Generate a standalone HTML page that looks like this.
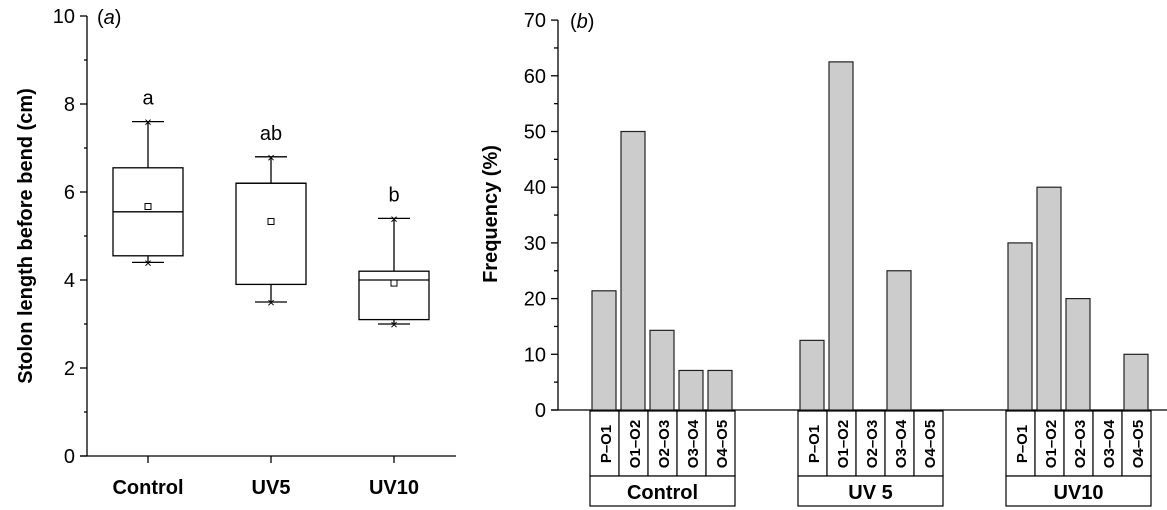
<!DOCTYPE html>
<html><head><meta charset="utf-8"><style>
body{margin:0;background:#fff}
svg{display:block;font-family:"Liberation Sans",Arial,sans-serif}
</style></head><body>
<svg width="1167" height="510" viewBox="0 0 1167 510" xmlns="http://www.w3.org/2000/svg">
<g id="a"></g>
<g id="b"></g>
</svg>
<script>
const boxCats=["Control","UV5","UV10"];
const whiskHi=[7.6,6.8,5.4];
const q3=[6.55,6.2,4.2];
const med=[5.55,6.2,4.0];
const means=[5.67,5.33,3.93];
const q1=[4.55,3.9,3.1];
const whiskLo=[4.4,3.5,3.0];
const sigLetters=["a","ab","b"];
const yTicksA=[0,2,4,6,8,10];

const groups=["Control","UV 5","UV10"];
const intervals=["P\u2013O1","O1\u2013O2","O2\u2013O3","O3\u2013O4","O4\u2013O5"];
const freqControl=[21.4,50,14.3,7.1,7.1];
const freqUV5=[12.5,62.5,0,25,0];
const freqUV10=[30,40,20,0,10];
const yTicksB=[0,10,20,30,40,50,60,70];

const NS="http://www.w3.org/2000/svg";
function mk(parent,tag,attrs,text){const e=document.createElementNS(NS,tag);for(const k in attrs)e.setAttribute(k,attrs[k]);if(text!==undefined)e.textContent=text;parent.appendChild(e);return e;}

// Panel A
const A=document.getElementById('a');
const ya=v=>456-v*44;
const xa=i=>148+i*123;
let e;
e=mk(A,'line',{x1:87,y1:16,x2:87,y2:456,stroke:'#000','stroke-width':1.3});


e=mk(A,'line',{x1:80,y1:456,x2:456,y2:456,stroke:'#000','stroke-width':1.3});


for(let v=0;v<=10;v++){
  mk(A,'line',{x1:v%2?84:80,y1:ya(v),x2:87,y2:ya(v),stroke:'#000','stroke-width':1.3});
}
yTicksA.forEach(v=>{
  e=mk(A,'text',{x:75,y:ya(v)+7,'text-anchor':'end','font-size':20},String(v));
  
  
});
e=mk(A,'text',{x:0,y:0,transform:'translate(32,236) rotate(-90)','text-anchor':'middle','font-size':20,'font-weight':'bold'},'Stolon length before bend (cm)');


e=mk(A,'text',{x:97,y:24,'font-size':20},'');
e.innerHTML='(<tspan font-style="italic">a</tspan>)';


boxCats.forEach((c,i)=>{
  const x=xa(i);
  mk(A,'line',{x1:x,y1:456,x2:x,y2:463,stroke:'#000','stroke-width':1.3});
  e=mk(A,'text',{x:x,y:494,'text-anchor':'middle','font-size':20,'font-weight':'bold'},c);
  
  
  const g=mk(A,'g',{});
  
  
  mk(g,'line',{x1:x,y1:ya(whiskHi[i]),x2:x,y2:ya(q3[i]),stroke:'#000','stroke-width':1.3});
  mk(g,'line',{x1:x,y1:ya(q1[i]),x2:x,y2:ya(whiskLo[i]),stroke:'#000','stroke-width':1.3});
  [whiskHi[i],whiskLo[i]].forEach(w=>{
    mk(g,'line',{x1:x-16,y1:ya(w),x2:x+16,y2:ya(w),stroke:'#000','stroke-width':1.3});
    mk(g,'text',{x:x,y:ya(w)+5,'text-anchor':'middle','font-size':13},'\u00d7');
  });
  mk(g,'rect',{x:x-35,y:ya(q3[i]),width:70,height:ya(q1[i])-ya(q3[i]),fill:'#fff',stroke:'#000','stroke-width':1.3});
  mk(g,'line',{x1:x-35,y1:ya(med[i]),x2:x+35,y2:ya(med[i]),stroke:'#000','stroke-width':1.3});
  mk(g,'rect',{x:x-3,y:ya(means[i])-3,width:6,height:6,fill:'#fff',stroke:'#000','stroke-width':1});
  e=mk(A,'text',{x:x,y:ya(whiskHi[i])-17,'text-anchor':'middle','font-size':20},sigLetters[i]);
  
  
});

// Panel B
const B=document.getElementById('b');
const yb=v=>410-v*5.57;
const cellX=(g,i)=>590+g*208+i*29;
e=mk(B,'line',{x1:558,y1:20,x2:558,y2:410,stroke:'#000','stroke-width':1.3});


e=mk(B,'line',{x1:551,y1:410,x2:1167,y2:410,stroke:'#000','stroke-width':1.3});


for(let v=0;v<=70;v+=5){
  mk(B,'line',{x1:v%10?554:551,y1:yb(v),x2:558,y2:yb(v),stroke:'#000','stroke-width':1.3});
}
yTicksB.forEach(v=>{
  e=mk(B,'text',{x:546,y:yb(v)+7,'text-anchor':'end','font-size':20},String(v));
  
  
});
e=mk(B,'text',{x:0,y:0,transform:'translate(497,214) rotate(-90)','text-anchor':'middle','font-size':20,'font-weight':'bold'},'Frequency (%)');


e=mk(B,'text',{x:570,y:28,'font-size':20},'');
e.innerHTML='(<tspan font-style="italic">b</tspan>)';


const series=[freqControl,freqUV5,freqUV10];
groups.forEach((gname,g)=>{
  series[g].forEach((v,i)=>{
    const x=cellX(g,i);
    if(v>0){
      e=mk(B,'rect',{x:x+2,y:yb(v),width:24,height:410-yb(v),fill:'#cccccc',stroke:'#222','stroke-width':1.2});
      
      
    }
    mk(B,'rect',{x:x,y:411,width:29,height:65,fill:'#fff',stroke:'#000','stroke-width':1.2});
    e=mk(B,'text',{x:0,y:0,transform:`translate(${x+21},444) rotate(-90)`,'text-anchor':'middle','font-size':15,'font-weight':'bold'},intervals[i]);
    
    
  });
  const gx=cellX(g,0);
  e=mk(B,'rect',{x:gx,y:476,width:145,height:30,fill:'#fff',stroke:'#000','stroke-width':1.2});
  
  
  e=mk(B,'text',{x:gx+72.5,y:499,'text-anchor':'middle','font-size':20,'font-weight':'bold'},gname);
  
  
});
</script>
</body></html>
